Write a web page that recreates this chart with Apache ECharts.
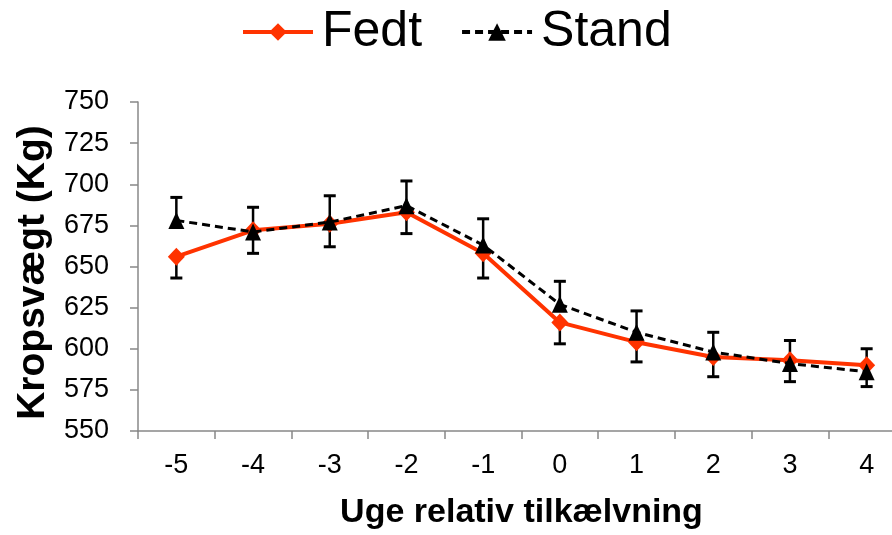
<!DOCTYPE html>
<html>
<head>
<meta charset="utf-8">
<script src="https://cdn.jsdelivr.net/npm/echarts@6/dist/echarts.min.js"></script>
<style>
  html, body { margin: 0; padding: 0; background: #fff; }
  #chart { width: 892px; height: 535px; }
</style>
</head>
<body>
<div id="chart"></div>
<script>
// uger relativt til kælvning
const weeks = ['-5', '-4', '-3', '-2', '-1', '0', '1', '2', '3', '4'];
// Fedt: gennemsnit og minus-fejl
const fedt = [656, 672, 676, 683, 658, 616, 604, 595, 593, 590];
const fedtErr = [13, 14, 14, 13, 15, 13, 12, 12, 13, 13];
// Stand: gennemsnit og plus-fejl
const stand = [678, 671, 677, 687, 663, 627, 610, 598, 591, 586];
const standErr = [14, 15, 16, 15, 16, 14, 13, 12, 14, 14];

const red = '#FF3300';
const font = 'Liberation Sans, Arial, sans-serif';

// fejlstreg med tværstreg i enden
function errorBar(params, api) {
  const x = api.value(0);
  const from = api.coord([x, api.value(1)]);
  const to = api.coord([x, api.value(2)]);
  const half = 6;
  return {
    type: 'group',
    children: [
      { type: 'line', shape: { x1: from[0], y1: from[1], x2: to[0], y2: to[1] },
        style: { stroke: '#000', lineWidth: 2.5 } },
      { type: 'line', shape: { x1: to[0] - half, y1: to[1], x2: to[0] + half, y2: to[1] },
        style: { stroke: '#000', lineWidth: 3 } }
    ]
  };
}

const standBars = stand.map((v, i) => [i, v, v + standErr[i]]);
const fedtBars = fedt.map((v, i) => [i, v, v - fedtErr[i]]);

const chart = echarts.init(document.getElementById('chart'));
chart.setOption({
  animation: false,
  legend: {
    left: 236,
    top: 2,
    itemWidth: 70,
    itemHeight: 22,
    itemGap: 38,
    lineStyle: { width: 4 },
    textStyle: { fontFamily: font, fontSize: 50, color: '#000', padding: [4, 0, 0, 4] },
    data: ['Fedt', 'Stand']
  },
  grid: { left: 138, top: 102, right: -13, bottom: 104, outerBoundsMode: 'none' },
  xAxis: {
    type: 'category',
    data: weeks,
    boundaryGap: true,
    name: 'Uge relativ tilkælvning',
    nameLocation: 'middle',
    nameGap: 65,
    nameTextStyle: { fontFamily: font, fontSize: 34, fontWeight: 'bold', color: '#000' },
    axisLine: { lineStyle: { color: '#888', width: 1.5 } },
    axisTick: { show: true, alignWithLabel: false, length: 8, lineStyle: { color: '#888', width: 1.5 } },
    axisLabel: { fontFamily: font, fontSize: 27, color: '#000', margin: 21 }
  },
  yAxis: {
    type: 'value',
    min: 550,
    max: 750,
    interval: 25,
    name: 'Kropsvægt (Kg)',
    nameLocation: 'middle',
    nameGap: 84,
    nameTextStyle: { fontFamily: font, fontSize: 39, fontWeight: 'bold', color: '#000', padding: [0, 12, 0, 0] },
    axisLine: { show: true, lineStyle: { color: '#888', width: 1.5 } },
    axisTick: { show: true, length: 8, lineStyle: { color: '#888', width: 1.5 } },
    splitLine: { show: false },
    axisLabel: { fontFamily: font, fontSize: 27, color: '#000', margin: 29 }
  },
  series: [
    {
      name: 'Stand err', type: 'custom', renderItem: errorBar, data: standBars, z: 1,
      encode: { x: 0, y: [1, 2] }
    },
    {
      name: 'Fedt err', type: 'custom', renderItem: errorBar, data: fedtBars, z: 1,
      encode: { x: 0, y: [1, 2] }
    },
    {
      name: 'Fedt', type: 'line', data: fedt, z: 3,
      symbol: 'diamond', symbolSize: [17, 18],
      lineStyle: { color: red, width: 4 },
      itemStyle: { color: red }
    },
    {
      name: 'Stand', type: 'line', data: stand, z: 4,
      symbol: 'triangle', symbolSize: [16, 17],
      lineStyle: { color: '#000', width: 3, type: [8, 5] },
      itemStyle: { color: '#000' }
    }
  ]
});
</script>
</body>
</html>
